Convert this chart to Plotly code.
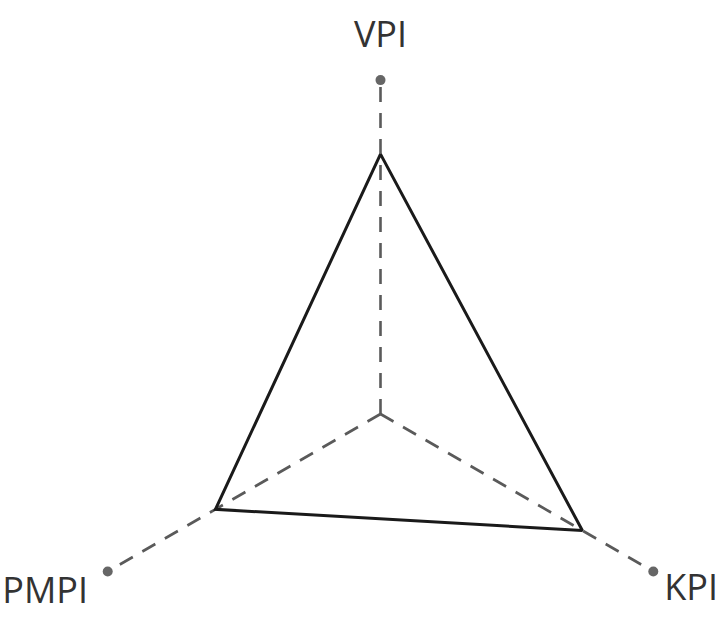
import numpy as np
import plotly.graph_objects as go

# --- data ---
axes = ['VPI', 'KPI', 'PMPI']
angles = [90, 330, 210]           # direction of each axis, degrees
axis_max = [106, 100, 100]        # length of each dashed spoke
values = [82.5, 74, 60.5]         # triangle vertices

# label placement (outside the spokes)
label_r = [119.5, 121.0, 109.0]
label_theta = [90, 332.3, 211.6]
label_pos = ['middle center', 'middle left', 'middle left']

W, H = 725, 619
cx, cy = 380.5, 414               # centre in px
scale = 3.15                      # px per unit


def to_xy(r, deg):
    t = np.radians(np.asarray(deg, dtype=float))
    r = np.asarray(r, dtype=float)
    return r * np.cos(t), r * np.sin(t)


fig = go.Figure()

# dashed spokes
for a, m in zip(angles, axis_max):
    x, y = to_xy([0, m], [a, a])
    fig.add_trace(go.Scatter(x=x, y=y, mode='lines',
                             line=dict(color='#5a5a5a', width=2.6, dash='15px,11px'),
                             hoverinfo='skip', showlegend=False, cliponaxis=False))

# spoke end dots
x, y = to_xy(axis_max, angles)
fig.add_trace(go.Scatter(x=x, y=y, mode='markers',
                         marker=dict(color='#666666', size=10),
                         hoverinfo='skip', showlegend=False, cliponaxis=False))

# triangle
x, y = to_xy(values + values[:1], angles + angles[:1])
fig.add_trace(go.Scatter(x=x, y=y, mode='lines',
                         line=dict(color='#1a1a1a', width=3),
                         hoverinfo='skip', showlegend=False, cliponaxis=False))

# axis labels
x, y = to_xy(label_r, label_theta)
fig.add_trace(go.Scatter(x=x, y=y, mode='text', text=axes,
                         textposition=label_pos,
                         textfont=dict(family='Open Sans, Noto Sans, sans-serif',
                                       size=36, color='#333333'),
                         hoverinfo='skip', showlegend=False, cliponaxis=False))

fig.update_layout(
    width=W, height=H,
    margin=dict(l=0, r=0, t=0, b=0),
    paper_bgcolor='white', plot_bgcolor='white',
    xaxis=dict(visible=False, range=[-cx / scale, (W - cx) / scale]),
    yaxis=dict(visible=False, range=[-(H - cy) / scale, cy / scale]),
)

fig.write_html("out.html", config={'displayModeBar': False},
               post_script="document.body.style.margin='0';")
